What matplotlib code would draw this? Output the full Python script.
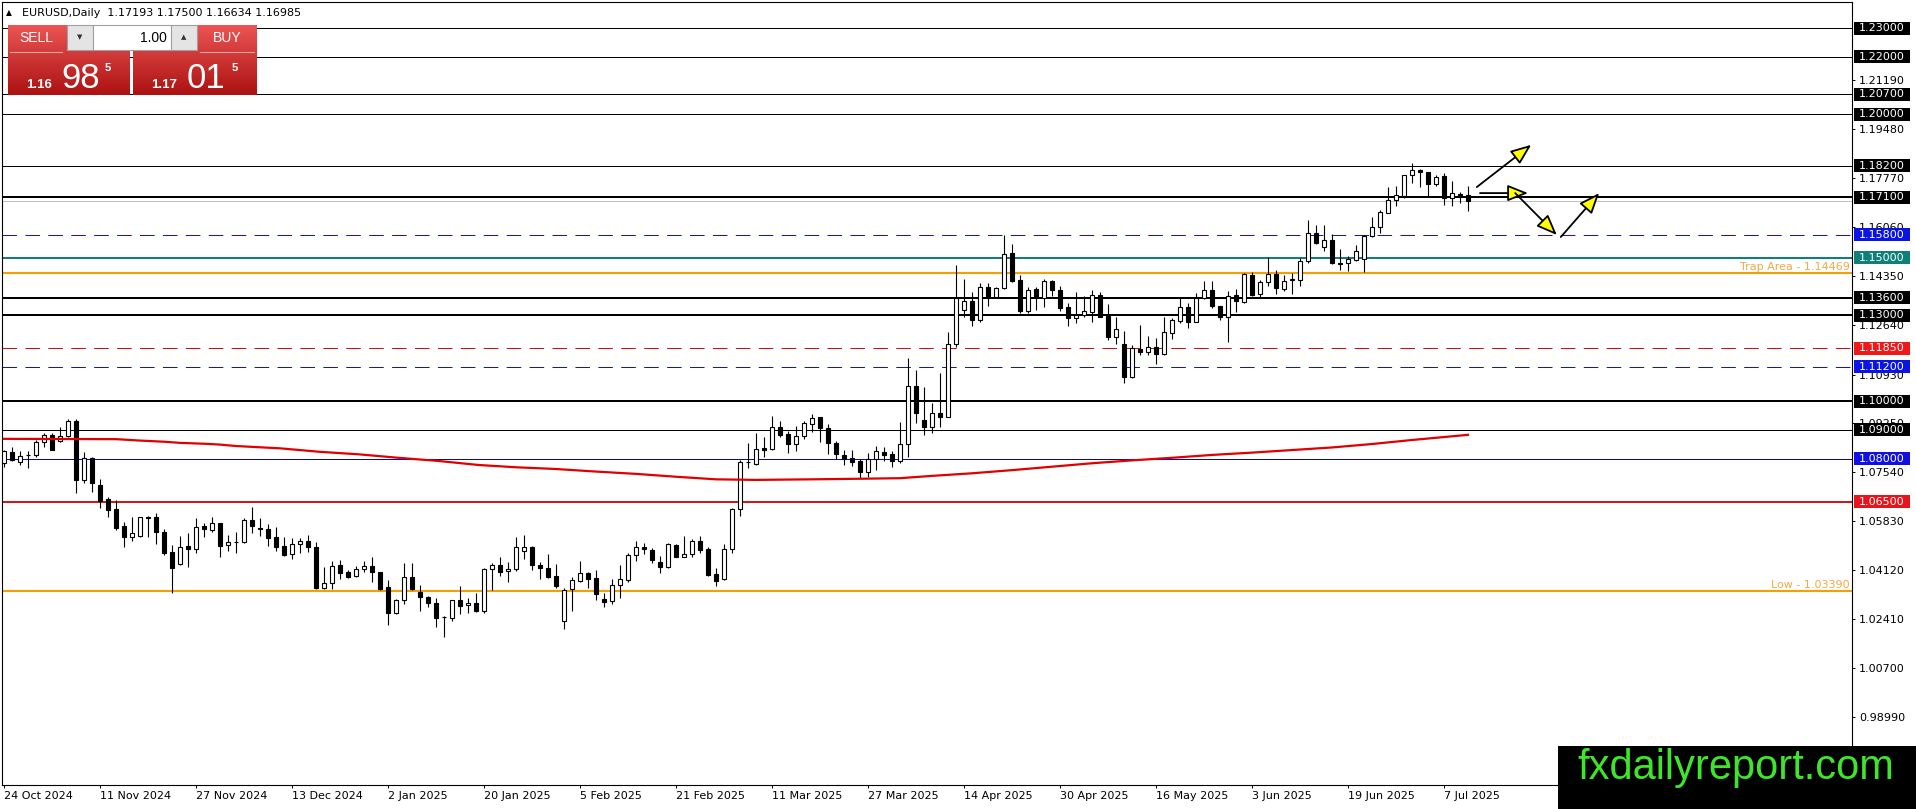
import numpy as np
import matplotlib
matplotlib.use("Agg")
import matplotlib.pyplot as plt
from matplotlib.patches import Rectangle, FancyArrowPatch
from matplotlib.transforms import blended_transform_factory

W, H = 1916, 809

# daily candles, 24 Oct 2024 .. 10 Jul 2025
opens = [1.0785, 1.0824, 1.0789, 1.0812, 1.0813, 1.0857, 1.0882, 1.0860, 1.0879, 1.0931,
         1.0726, 1.0804, 1.0708, 1.0658, 1.0624, 1.0565, 1.0528, 1.0532, 1.0598, 1.0596,
         1.0543, 1.0474, 1.0432, 1.0496, 1.0486, 1.0565, 1.0551, 1.0575, 1.0498, 1.0509,
         1.0509, 1.0586, 1.0557, 1.0554, 1.0527, 1.0496, 1.0467, 1.0502, 1.0513, 1.0491,
         1.0350, 1.0366, 1.0428, 1.0406, 1.0392, 1.0417, 1.0426, 1.0406, 1.0352, 1.0261,
         1.0308, 1.0387, 1.0337, 1.0319, 1.0296, 1.0247, 1.0244, 1.0308, 1.0289, 1.0296,
         1.0271, 1.0414, 1.0428, 1.0407, 1.0415, 1.0478, 1.0491, 1.0428, 1.0418, 1.0390,
         1.0234, 1.0345, 1.0373, 1.0400, 1.0383, 1.0311, 1.0305, 1.0359, 1.0378, 1.0463,
         1.0491, 1.0482, 1.0441, 1.0421, 1.0498, 1.0459, 1.0468, 1.0512, 1.0484, 1.0397,
         1.0380, 1.0484, 1.0624, 1.0790, 1.0782, 1.0836, 1.0832, 1.0909, 1.0885, 1.0850,
         1.0879, 1.0921, 1.0944, 1.0906, 1.0853, 1.0812, 1.0803, 1.0791, 1.0752, 1.0800,
         1.0823, 1.0815, 1.0793, 1.0850, 1.1053, 1.0935, 1.0912, 1.0960, 1.0946, 1.1198,
         1.1318, 1.1349, 1.1283, 1.1397, 1.1364, 1.1393, 1.1515, 1.1422, 1.1315, 1.1391,
         1.1361, 1.1419, 1.1388, 1.1327, 1.1289, 1.1300, 1.1312, 1.1370, 1.1298, 1.1223,
         1.1199, 1.1083, 1.1182, 1.1173, 1.1188, 1.1165, 1.1236, 1.1281, 1.1327, 1.1277,
         1.1361, 1.1388, 1.1330, 1.1292, 1.1370, 1.1344, 1.1440, 1.1372, 1.1414, 1.1442,
         1.1391, 1.1424, 1.1424, 1.1487, 1.1585, 1.1538, 1.1562, 1.1483, 1.1480, 1.1492,
         1.1494, 1.1575, 1.1608, 1.1657, 1.1701, 1.1715, 1.1788, 1.1805, 1.1797, 1.1756,
         1.1784, 1.1707, 1.1722, 1.17193]
highs = [1.0830, 1.0839, 1.0826, 1.0828, 1.0865, 1.0888, 1.0888, 1.0911, 1.0937, 1.0938,
         1.0824, 1.0806, 1.0729, 1.0665, 1.0656, 1.0580, 1.0596, 1.0598, 1.0600, 1.0612,
         1.0554, 1.0498, 1.0530, 1.0542, 1.0592, 1.0575, 1.0596, 1.0575, 1.0534, 1.0543,
         1.0592, 1.0633, 1.0592, 1.0571, 1.0563, 1.0528, 1.0523, 1.0525, 1.0533, 1.0511,
         1.0421, 1.0445, 1.0447, 1.0412, 1.0427, 1.0443, 1.0456, 1.0406, 1.0377, 1.0311,
         1.0438, 1.0438, 1.0360, 1.0322, 1.0313, 1.0252, 1.0308, 1.0357, 1.0313, 1.0331,
         1.0418, 1.0436, 1.0459, 1.0441, 1.0526, 1.0534, 1.0496, 1.0441, 1.0468, 1.0433,
         1.0348, 1.0389, 1.0443, 1.0405, 1.0412, 1.0331, 1.0380, 1.0428, 1.0470, 1.0513,
         1.0505, 1.0488, 1.0461, 1.0505, 1.0502, 1.0532, 1.0519, 1.0531, 1.0491, 1.0418,
         1.0503, 1.0629, 1.0795, 1.0856, 1.0888, 1.0874, 1.0948, 1.0931, 1.0897, 1.0914,
         1.0931, 1.0956, 1.0946, 1.0921, 1.0861, 1.0830, 1.0830, 1.0800, 1.0821, 1.0844,
         1.0842, 1.0827, 1.0926, 1.1149, 1.1109, 1.1051, 1.0995, 1.1097, 1.1242, 1.1474,
         1.1426, 1.1382, 1.1411, 1.1411, 1.1397, 1.1579, 1.1548, 1.1439, 1.1397, 1.1397,
         1.1425, 1.1422, 1.1401, 1.1343, 1.1379, 1.1366, 1.1387, 1.1382, 1.1339, 1.1292,
         1.1246, 1.1196, 1.1265, 1.1227, 1.1219, 1.1292, 1.1289, 1.1358, 1.1343, 1.1376,
         1.1419, 1.1419, 1.1332, 1.1384, 1.1391, 1.1448, 1.1451, 1.1424, 1.1501, 1.1457,
         1.1440, 1.1445, 1.1498, 1.1631, 1.1614, 1.1614, 1.1581, 1.1529, 1.1506, 1.1544,
         1.1579, 1.1641, 1.1666, 1.1745, 1.1751, 1.1788, 1.1831, 1.1808, 1.1800, 1.1788,
         1.1794, 1.1767, 1.1730, 1.17500]
lows = [1.0772, 1.0792, 1.0778, 1.0769, 1.0807, 1.0842, 1.0830, 1.0857, 1.0874, 1.0682,
        1.0714, 1.0685, 1.0627, 1.0596, 1.0552, 1.0493, 1.0514, 1.0528, 1.0528, 1.0502,
        1.0464, 1.0333, 1.0431, 1.0424, 1.0472, 1.0526, 1.0546, 1.0459, 1.0479, 1.0472,
        1.0505, 1.0542, 1.0532, 1.0496, 1.0478, 1.0461, 1.0451, 1.0473, 1.0476, 1.0345,
        1.0347, 1.0347, 1.0381, 1.0385, 1.0389, 1.0404, 1.0372, 1.0342, 1.0221, 1.0259,
        1.0294, 1.0343, 1.0270, 1.0282, 1.0213, 1.0178, 1.0236, 1.0258, 1.0261, 1.0267,
        1.0264, 1.0343, 1.0391, 1.0371, 1.0410, 1.0450, 1.0412, 1.0381, 1.0383, 1.0348,
        1.0208, 1.0270, 1.0369, 1.0348, 1.0308, 1.0284, 1.0294, 1.0315, 1.0372, 1.0445,
        1.0467, 1.0435, 1.0401, 1.0418, 1.0456, 1.0456, 1.0456, 1.0473, 1.0391, 1.0358,
        1.0377, 1.0470, 1.0601, 1.0766, 1.0778, 1.0805, 1.0830, 1.0874, 1.0821, 1.0827,
        1.0867, 1.0892, 1.0859, 1.0815, 1.0799, 1.0778, 1.0774, 1.0733, 1.0735, 1.0760,
        1.0792, 1.0772, 1.0784, 1.0805, 1.0923, 1.0882, 1.0888, 1.0911, 1.0944, 1.1190,
        1.1294, 1.1262, 1.1277, 1.1332, 1.1362, 1.1390, 1.1415, 1.1306, 1.1308, 1.1318,
        1.1329, 1.1368, 1.1315, 1.1262, 1.1274, 1.1292, 1.1277, 1.1292, 1.1213, 1.1199,
        1.1065, 1.1080, 1.1161, 1.1161, 1.1130, 1.1161, 1.1216, 1.1274, 1.1254, 1.1277,
        1.1355, 1.1324, 1.1283, 1.1207, 1.1312, 1.1341, 1.1367, 1.1364, 1.1402, 1.1372,
        1.1385, 1.1373, 1.1402, 1.1483, 1.1548, 1.1523, 1.1477, 1.1457, 1.1454, 1.1490,
        1.1451, 1.1573, 1.1587, 1.1655, 1.1680, 1.1707, 1.1761, 1.1747, 1.1715, 1.1751,
        1.1684, 1.1680, 1.1689, 1.16634]
closes = [1.0825, 1.0794, 1.0810, 1.0813, 1.0857, 1.0881, 1.0831, 1.0879, 1.0931, 1.0726,
          1.0804, 1.0716, 1.0654, 1.0621, 1.0558, 1.0528, 1.0540, 1.0596, 1.0593, 1.0543,
          1.0472, 1.0418, 1.0493, 1.0486, 1.0563, 1.0554, 1.0575, 1.0497, 1.0509, 1.0510,
          1.0586, 1.0567, 1.0556, 1.0525, 1.0494, 1.0465, 1.0503, 1.0513, 1.0491, 1.0348,
          1.0366, 1.0427, 1.0403, 1.0389, 1.0417, 1.0425, 1.0404, 1.0346, 1.0261, 1.0308,
          1.0387, 1.0345, 1.0317, 1.0298, 1.0244, 1.0248, 1.0308, 1.0288, 1.0296, 1.0271,
          1.0414, 1.0430, 1.0406, 1.0416, 1.0491, 1.0491, 1.0428, 1.0418, 1.0389, 1.0358,
          1.0343, 1.0376, 1.0400, 1.0382, 1.0327, 1.0302, 1.0359, 1.0380, 1.0464, 1.0491,
          1.0484, 1.0447, 1.0421, 1.0502, 1.0459, 1.0468, 1.0512, 1.0482, 1.0396, 1.0375,
          1.0484, 1.0625, 1.0789, 1.0788, 1.0832, 1.0830, 1.0909, 1.0882, 1.0850, 1.0879,
          1.0923, 1.0943, 1.0906, 1.0853, 1.0815, 1.0798, 1.0790, 1.0752, 1.0800, 1.0827,
          1.0813, 1.0793, 1.0850, 1.1053, 1.0960, 1.0909, 1.0960, 1.0946, 1.1198, 1.1361,
          1.1349, 1.1283, 1.1397, 1.1361, 1.1393, 1.1512, 1.1419, 1.1315, 1.1387, 1.1361,
          1.1419, 1.1388, 1.1326, 1.1289, 1.1300, 1.1314, 1.1370, 1.1295, 1.1223, 1.1251,
          1.1083, 1.1184, 1.1173, 1.1188, 1.1163, 1.1240, 1.1283, 1.1327, 1.1277, 1.1361,
          1.1388, 1.1330, 1.1292, 1.1368, 1.1348, 1.1442, 1.1370, 1.1414, 1.1442, 1.1393,
          1.1420, 1.1425, 1.1488, 1.1585, 1.1550, 1.1562, 1.1480, 1.1477, 1.1494, 1.1523,
          1.1577, 1.1608, 1.1660, 1.1701, 1.1717, 1.1788, 1.1805, 1.1797, 1.1756, 1.1780,
          1.1707, 1.1724, 1.1719, 1.16985]

# red moving average, sampled along the curve
ma_bars = [0, 14, 17, 20, 22, 25, 27, 29, 34.5, 39.4, 44.4, 49.3, 54.3, 59.3, 64, 69, 74,
           79, 84, 89, 94, 101, 107, 112, 116, 121, 126, 131, 136, 141, 146, 151, 156,
           161, 166, 171, 176, 183]
ma_vals = [1.0869, 1.0868, 1.0863, 1.0859, 1.0855, 1.0852, 1.0849, 1.0844, 1.0836, 1.0824,
           1.0815, 1.0803, 1.0792, 1.0778, 1.0770, 1.0764, 1.0755, 1.0747, 1.0737, 1.0728,
           1.0726, 1.0728, 1.0730, 1.0732, 1.0740, 1.0749, 1.0760, 1.0772, 1.0784, 1.0794,
           1.0803, 1.0813, 1.0821, 1.0830, 1.0839, 1.0851, 1.0865, 1.0883]

date_labels = ['24 Oct 2024', '11 Nov 2024', '27 Nov 2024', '13 Dec 2024', '2 Jan 2025',
               '20 Jan 2025', '5 Feb 2025', '21 Feb 2025', '11 Mar 2025', '27 Mar 2025',
               '14 Apr 2025', '30 Apr 2025', '16 May 2025', '3 Jun 2025', '19 Jun 2025',
               '7 Jul 2025']
date_bars = [0, 12, 24, 36, 48, 60, 72, 84, 96, 108, 120, 132, 144, 156, 168, 180]

tick_prices = [1.21190, 1.19480, 1.17770, 1.16060, 1.14350, 1.12640, 1.10930, 1.09250,
               1.07540, 1.05830, 1.04120, 1.02410, 1.00700, 0.98990]

level_prices = [1.230, 1.220, 1.207, 1.200, 1.182, 1.171, 1.158, 1.150, 1.136, 1.130,
                1.1185, 1.112, 1.100, 1.090, 1.080, 1.065]
level_colors = ['black', 'black', 'black', 'black', 'black', 'black', '#1414c8', '#0f8078',
                'black', 'black', '#cc1010', '#1414c8', 'black', 'black', '#0a0aa0', '#d01818']
level_boxes = ['black', 'black', 'black', 'black', 'black', 'black', '#0a14e6', '#0f8078',
               'black', 'black', '#f01818', '#0a14e6', 'black', 'black', '#1010e6', '#e8141c']
level_widths = [1, 1, 1, 1, 1, 2, 1, 2, 2, 2, 1, 1, 2, 1, 1, 2]
level_dashed = [False, False, False, False, False, False, True, False, False, False,
                True, True, False, False, False, False]

trap_price = 1.14469
low_price = 1.03390
bid_price = 1.16985

# drawn scenario arrows: (bar, price) start -> end
arrows = [((184.1, 1.1746), (190.9, 1.1893)),
          ((184.5, 1.1725), (190.5, 1.1725)),
          ((188.9, 1.1725), (194.1, 1.1579)),
          ((194.6, 1.1572), (199.4, 1.1725))]


def px(x, y):
    return x / W, 1 - y / H


plt.rcParams['font.family'] = 'DejaVu Sans'
plt.rcParams['lines.scale_dashes'] = False
fig = plt.figure(figsize=(W / 100, H / 100), dpi=100)
fig.patch.set_facecolor('white')
ax = fig.add_axes([2 / W, 1 - 785 / H, 1850 / W, 783 / H])
ax.set_xlim(-0.25, 231.0)
ax.set_ylim(0.96633, 1.23906)

# levels
for p, col, lw, dash in zip(level_prices, level_colors, level_widths, level_dashed):
    ls = (0, (10.5, 6)) if dash else '-'
    ax.axhline(p, color=col, lw=lw * 0.72, ls=ls, zorder=2)
ax.axhline(trap_price, color='#f5a000', lw=1.5, zorder=2)
ax.axhline(low_price, color='#f5a000', lw=1.5, zorder=2)
ax.axhline(bid_price, color='#c0c0c0', lw=0.72, zorder=1.5)

trans = blended_transform_factory(ax.transAxes, ax.transData)
ax.text(0.9989, trap_price + 0.0003, 'Trap Area - 1.14469', transform=trans, ha='right',
        va='bottom', color='#f5a742', fontsize=8)
ax.text(0.9989, low_price + 0.0003, 'Low - 1.03390', transform=trans, ha='right',
        va='bottom', color='#f5a742', fontsize=8)

# moving average
ax.plot(ma_bars, ma_vals, color='#e00000', lw=1.6, zorder=5)

# candles
o = np.array(opens)
hi = np.array(highs)
lo = np.array(lows)
c = np.array(closes)
x = np.arange(len(o))
up = c >= o
ax.vlines(x, lo, hi, color='black', lw=0.8, zorder=3)
ax.bar(x[up], (c - o)[up], bottom=o[up], width=0.62, facecolor='white',
       edgecolor='black', lw=0.8, zorder=4)
ax.bar(x[~up], (o - c)[~up], bottom=c[~up], width=0.62, facecolor='black',
       edgecolor='black', lw=0.8, zorder=4)

# arrows
for (a, b) in arrows:
    ax.add_patch(FancyArrowPatch(a, b, arrowstyle='-|>,head_length=1.05,head_width=0.42',
                                 mutation_scale=12, facecolor='#ffff00', edgecolor='black',
                                 lw=1.3, shrinkA=0, shrinkB=0, zorder=6))

# axes and ticks
for s in ax.spines.values():
    s.set_color('black')
    s.set_linewidth(0.8)
ax.yaxis.tick_right()
ax.set_yticks(tick_prices)
ax.set_yticklabels(['%.5f' % t for t in tick_prices])
ax.tick_params(axis='y', length=2.5, width=0.7, pad=2.5, labelsize=8, colors='black')
ax.set_xticks(date_bars)
ax.set_xticklabels(date_labels, ha='left')
ax.tick_params(axis='x', length=2.5, width=0.7, pad=2, labelsize=8, colors='black')

# price boxes on the right scale
bh = 13 / 2871
for p, col in zip(level_prices, level_boxes):
    ax.add_patch(Rectangle((1.00108, p - bh / 2), 0.0303, bh, transform=trans, facecolor=col,
                           edgecolor='none', clip_on=False, zorder=7))
    ax.text(1.00378, p, '%.5f' % p, transform=trans, color='white', fontsize=8, va='center',
            ha='left', zorder=8, clip_on=False)

# header
fig.text(*px(6, 13), '\u25b2', fontsize=5.5, va='center', zorder=9)
fig.text(*px(22, 13), 'EURUSD,Daily  1.17193 1.17500 1.16634 1.16985', fontsize=8,
         va='center', zorder=9)


# one-click trading panel
def grad(w, h, top, bot):
    t = np.linspace(0, 1, h)[:, None, None]
    arr = (1 - t) * np.array(top) + t * np.array(bot)
    return np.ascontiguousarray(np.broadcast_to(arr, (h, w, 3)) / 255.0)


def fig_rect(x0, y0, x1, y1, fc, ec='none', lw=0.8, z=20):
    fig.add_artist(Rectangle(px(x0, y1), (x1 - x0) / W, (y1 - y0) / H,
                             transform=fig.transFigure, facecolor=fc, edgecolor=ec,
                             lw=lw, zorder=z))


fig.figimage(grad(122, 70, (236, 84, 84), (172, 18, 18)), xo=8, yo=H - 95, origin='upper',
             zorder=15)
fig.figimage(grad(124, 70, (236, 84, 84), (172, 18, 18)), xo=133, yo=H - 95, origin='upper',
             zorder=15)
fig_rect(67, 25, 93, 50, '#e4e4e4', '#a0a0a0', z=20)
fig_rect(93, 25, 171, 50, 'white', '#a0a0a0', z=20)
fig_rect(171, 25, 197, 50, '#e4e4e4', '#a0a0a0', z=20)
fig.add_artist(plt.Line2D([10 / W, 62 / W], [1 - 52 / H] * 2, color='#f4a0a0', lw=0.8,
                          transform=fig.transFigure, zorder=21))
fig.add_artist(plt.Line2D([200 / W, 254 / W], [1 - 52 / H] * 2, color='#f4a0a0', lw=0.8,
                          transform=fig.transFigure, zorder=21))

ptxt = dict(color='white', family='Liberation Sans', zorder=25)
fig.text(*px(36, 38), 'SELL', fontsize=10, ha='center', va='center', **ptxt)
fig.text(*px(227, 38), 'BUY', fontsize=10, ha='center', va='center', **ptxt)
fig.text(*px(80, 37), '\u25bc', fontsize=5, ha='center', va='center', color='#333333', zorder=25)
fig.text(*px(184, 37), '\u25b2', fontsize=5, ha='center', va='center', color='#333333', zorder=25)
fig.text(*px(167, 38), '1.00', fontsize=10, ha='right', va='center', color='black',
         family='Liberation Sans', zorder=25)

fig.text(*px(26, 88), '1.16', fontsize=9.5, weight='bold', ha='left', va='baseline', **ptxt)
fig.text(*px(61, 88), '98', fontsize=25, ha='left', va='baseline', **ptxt)
fig.text(*px(105, 71), '5', fontsize=8, weight='bold', ha='left', va='baseline', **ptxt)
fig.text(*px(151, 88), '1.17', fontsize=9.5, weight='bold', ha='left', va='baseline', **ptxt)
fig.text(*px(187, 88), '01', fontsize=25, ha='left', va='baseline', **ptxt)
fig.text(*px(232, 71), '5', fontsize=8, weight='bold', ha='left', va='baseline', **ptxt)

# watermark
fig_rect(1558, 746, 1916, 809, 'black', z=30)
fig.text(*px(1736, 779), 'fxdailyreport.com', fontsize=30, color='#3ee52b',
         family='Liberation Sans', ha='center', va='baseline', zorder=31)

fig.savefig('out.png', dpi=100, facecolor='white')
